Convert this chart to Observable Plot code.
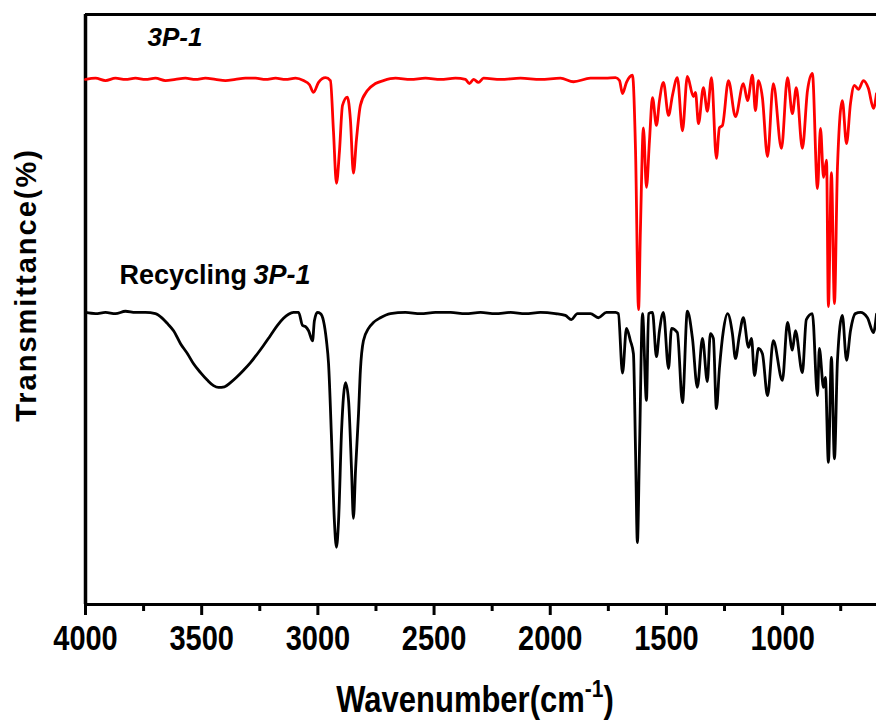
<!DOCTYPE html>
<html>
<head>
<meta charset="utf-8">
<script src="https://cdn.jsdelivr.net/npm/d3@7"></script>
<script src="https://cdn.jsdelivr.net/npm/@observablehq/plot@0.6"></script>
<style>
  html, body { margin: 0; padding: 0; background: #fff; }
  #chart { width: 876px; height: 725px; }
</style>
</head>
<body>
<div id="chart"></div>
<script>
// Wavenumber (cm-1) and transmittance (arbitrary, offset)
const wnRed = [4000,3957,3914,3871,3828,3785,3742,3699,3656,3613,3570,3527,3484,3441,3398,3355,3312,3268,3225,3182,3139,3096,3062,3036,3019,2997,2967,2946,2933,2920,2907,2894,2873,2860,2847,2834,2817,2787,2752,2718,2666,2601,2537,2472,2408,2365,2348,2330,2309,2287,2214,2128,2042,1956,1900,1827,1762,1719,1702,1689,1672,1646,1633,1620,1612,1599,1586,1573,1560,1543,1530,1513,1491,1474,1453,1431,1410,1384,1375,1362,1341,1324,1306,1285,1272,1259,1233,1203,1169,1151,1130,1117,1104,1087,1065,1040,1005,979,958,941,915,893,872,850,837,824,811,803,790,777,764,743,725,708,691,674,652,631,609,596];
const tRed = [89.0,89.2,88.8,89.2,89.0,89.2,89.0,89.2,88.8,89.0,89.2,89.0,89.2,89.0,88.8,89.0,89.2,89.2,89.0,89.2,89.0,89.2,88.8,88.1,86.8,88.5,89.3,88.8,80.3,71.4,76.9,84.6,86.0,82.2,73.1,78.8,84.6,87.1,88.3,88.8,89.2,89.0,89.2,89.0,89.2,89.0,88.3,89.0,88.5,89.2,89.0,89.2,89.0,89.2,88.6,89.2,89.2,89.3,88.8,86.6,88.5,89.7,77.0,50.0,63.4,80.8,70.7,78.6,85.9,81.2,85.4,88.5,82.9,86.3,89.3,80.3,89.5,86.1,86.8,81.5,87.6,83.6,89.3,75.6,80.8,81.2,88.8,82.7,88.3,85.4,89.7,83.7,88.8,85.9,75.9,88.3,77.3,89.3,83.2,87.6,77.3,87.1,90.0,70.5,80.7,72.4,75.3,50.5,73.2,51.0,74.1,85.4,78.1,84.9,88.0,87.3,88.8,87.5,84.1,86.6];

const wnBlack = [4000,3957,3914,3871,3828,3785,3742,3699,3669,3647,3621,3591,3561,3535,3505,3475,3449,3428,3402,3376,3350,3320,3290,3260,3234,3204,3174,3148,3126,3105,3083,3066,3053,3040,3023,3015,3002,2989,2976,2963,2954,2941,2929,2920,2911,2898,2881,2868,2855,2847,2838,2825,2817,2804,2782,2761,2731,2688,2623,2558,2494,2429,2365,2300,2236,2171,2107,2042,1978,1935,1909,1883,1827,1793,1758,1719,1707,1689,1672,1655,1642,1633,1625,1616,1603,1586,1577,1560,1543,1530,1513,1491,1478,1453,1431,1410,1388,1367,1345,1324,1311,1298,1285,1272,1255,1237,1216,1203,1186,1169,1147,1134,1121,1104,1087,1065,1040,1001,979,958,945,915,898,872,850,842,824,816,803,790,777,764,743,725,708,687,665,635,609,596];
const tBlack = [49.5,49.3,49.5,49.3,49.7,49.5,49.5,49.3,48.5,47.6,46.4,44.2,42.5,40.8,39.3,38.0,37.1,36.8,36.9,37.6,38.5,39.7,41.0,42.5,43.9,45.6,47.3,48.5,49.2,49.5,49.5,47.3,47.1,46.4,44.7,48.1,49.5,49.3,48.1,44.7,40.8,27.8,14.2,9.7,14.2,29.5,37.6,34.6,22.7,14.6,22.7,32.4,39.7,44.7,46.8,47.8,48.6,49.3,49.5,49.3,49.5,49.5,49.3,49.5,49.3,49.5,49.3,49.5,49.3,49.0,48.3,49.3,49.3,48.6,49.5,49.5,49.3,39.2,46.8,44.7,42.5,26.1,10.5,26.1,49.3,34.6,49.3,49.5,42.0,46.4,49.5,40.0,46.8,46.1,34.2,49.7,45.1,36.8,45.1,37.8,45.9,45.1,33.2,40.0,46.4,49.3,45.9,41.7,45.6,48.6,43.6,45.1,38.8,43.4,42.5,35.4,44.7,38.0,47.8,43.1,46.4,39.3,48.3,49.3,35.4,43.4,36.8,38.5,24.1,41.9,24.7,41.4,49.0,41.4,46.4,49.3,49.5,48.6,46.1,49.2];

const majorTicks = [4000, 3500, 3000, 2500, 2000, 1500, 1000];
const minorTicks = [3750, 3250, 2750, 2250, 1750, 1250, 750];
const seriesNames = ["3P-1", "Recycling 3P-1"];

const red = wnRed.map((w, i) => ({wn: w, t: tRed[i]}));
const black = wnBlack.map((w, i) => ({wn: w, t: tBlack[i]}));

const labelFont = "'Liberation Sans', Arial, Helvetica, sans-serif";

const chart = Plot.plot({
  width: 876,
  height: 725,
  marginLeft: 85,
  marginRight: 0,
  marginTop: 14,
  marginBottom: 121,
  style: {background: "#fff", overflow: "visible"},
  x: {domain: [4000, 596], axis: null},
  y: {domain: [0, 100], axis: null},
  marks: [
    Plot.ruleY([100], {stroke: "#000", strokeWidth: 3}),
    Plot.ruleX([4000], {stroke: "#000", strokeWidth: 3.5}),
    Plot.ruleY([0], {stroke: "#000", strokeWidth: 3}),
    Plot.axisX({ticks: minorTicks, tickSize: 7, strokeWidth: 3, text: null, label: null}),
    Plot.axisX({ticks: majorTicks, tickSize: 11, tickPadding: 10, strokeWidth: 3,
      tickFormat: d => String(d), fontSize: 29, fontWeight: "bold", fontFamily: labelFont,
      fill: "#000", label: null}),
    Plot.line(red, {x: "wn", y: "t", stroke: "#ff0000", strokeWidth: 2.8, curve: "monotone-x"}),
    Plot.line(black, {x: "wn", y: "t", stroke: "#000", strokeWidth: 2.8, curve: "monotone-x"}),
    Plot.text([seriesNames[0]], {x: 3733, y: 94.7, text: d => d, textAnchor: "start", lineAnchor: "bottom",
      fontSize: 26, fontWeight: "bold", fontStyle: "italic", fontFamily: labelFont, fill: "#000"}),
    Plot.text(["Recycling"], {x: 3854, y: 54.4, text: d => d, textAnchor: "start", lineAnchor: "bottom",
      fontSize: 27, fontWeight: "bold", fontFamily: labelFont, fill: "#000"}),
    Plot.text(["3P-1"], {x: 3277, y: 54.4, text: d => d, textAnchor: "start", lineAnchor: "bottom",
      fontSize: 27, fontWeight: "bold", fontStyle: "italic", fontFamily: labelFont, fill: "#000"})
  ]
});

document.getElementById("chart").appendChild(chart);

const svg = d3.select(chart);

// tall, narrow look of the tick labels (keep Plot's own x/y/dy, just stretch vertically)
svg.selectAll('g[aria-label="x-axis tick label"] text').each(function () {
  const t = this.getAttribute("transform") || "";
  this.setAttribute("transform", `${t} scale(1,1.2)`);
});

// x-axis title with superscript
const xt = svg.append("text")
  .attr("transform", "translate(475,712) scale(1,1.18)")
  .attr("text-anchor", "middle")
  .attr("font-family", labelFont)
  .attr("font-weight", "bold")
  .attr("font-size", 31)
  .attr("fill", "#000");
xt.append("tspan").text("Wavenumber(cm");
xt.append("tspan").attr("dy", -13).attr("font-size", 21).text("-1");
xt.append("tspan").attr("dy", 13).text(")");

// y-axis title
svg.append("text")
  .attr("transform", "translate(36,285) rotate(-90)")
  .attr("text-anchor", "middle")
  .attr("font-family", labelFont)
  .attr("font-weight", "bold")
  .attr("font-size", 29)
  .attr("letter-spacing", 2)
  .attr("fill", "#000")
  .text("Transmittance(%)");
</script>
</body>
</html>
